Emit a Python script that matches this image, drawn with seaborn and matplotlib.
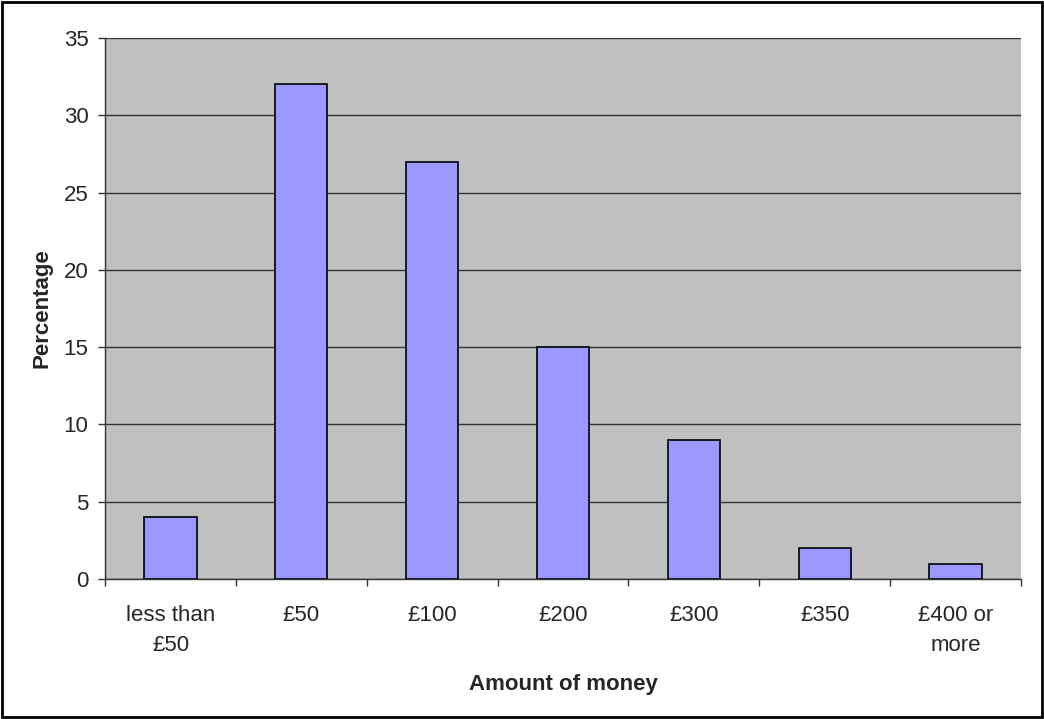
import matplotlib
matplotlib.use("Agg")
import matplotlib.pyplot as plt
from matplotlib.patches import Rectangle
from matplotlib.ticker import MultipleLocator, FixedLocator
import pandas as pd
import seaborn as sns

# chart data
categories = ["less than\n£50", "£50", "£100", "£200", "£300", "£350", "£400 or\nmore"]
percentages = [4, 32, 27, 15, 9, 2, 1]

df = pd.DataFrame({"Amount": categories, "Percentage": percentages})

sns.set_style("white")
plt.rcParams["font.family"] = ["Liberation Sans", "DejaVu Sans"]

fig = plt.figure(figsize=(10.44, 7.19), dpi=100)
ax = fig.add_axes([0.1006, 0.1947, 0.8774, 0.7525])

sns.barplot(data=df, x="Amount", y="Percentage", color="#9999FF",
            saturation=1, width=0.4, edgecolor="black", linewidth=1.2, ax=ax, zorder=3)

ax.set_facecolor("#C0C0C0")
ax.set_ylim(0, 35)
ax.set_xlim(-0.5, len(categories) - 0.5)
ax.yaxis.set_major_locator(MultipleLocator(5))
ax.grid(axis="y", color="#333333", linewidth=1, zorder=0)
ax.set_axisbelow(True)

# excel style: ticks between categories, labels centred
ax.xaxis.set_minor_locator(FixedLocator([i - 0.5 for i in range(len(categories) + 1)]))
ax.tick_params(axis="x", which="major", bottom=True, length=0, pad=18.5, labelsize=16)
ax.tick_params(axis="x", which="minor", bottom=True, length=5, width=1, color="#333333", direction="out")
ax.tick_params(axis="y", left=True, length=5, width=1, color="#333333", direction="out", labelsize=16, pad=7)
for t in ax.get_xticklabels():
    t.set_linespacing(1.6)

for s in ["top", "right"]:
    ax.spines[s].set_visible(False)
for s in ["left", "bottom"]:
    ax.spines[s].set_color("#333333")
    ax.spines[s].set_linewidth(1)

ax.set_xlabel("Amount of money", fontsize=16, fontweight="bold", labelpad=13)
ax.set_ylabel("Percentage", fontsize=16, fontweight="bold", labelpad=8)

# black frame round the whole chart
fig.patches.append(Rectangle((0.002, 0.003), 0.996, 0.994, transform=fig.transFigure,
                             fill=False, edgecolor="black", linewidth=2))

fig.savefig("out.png", dpi=100)
